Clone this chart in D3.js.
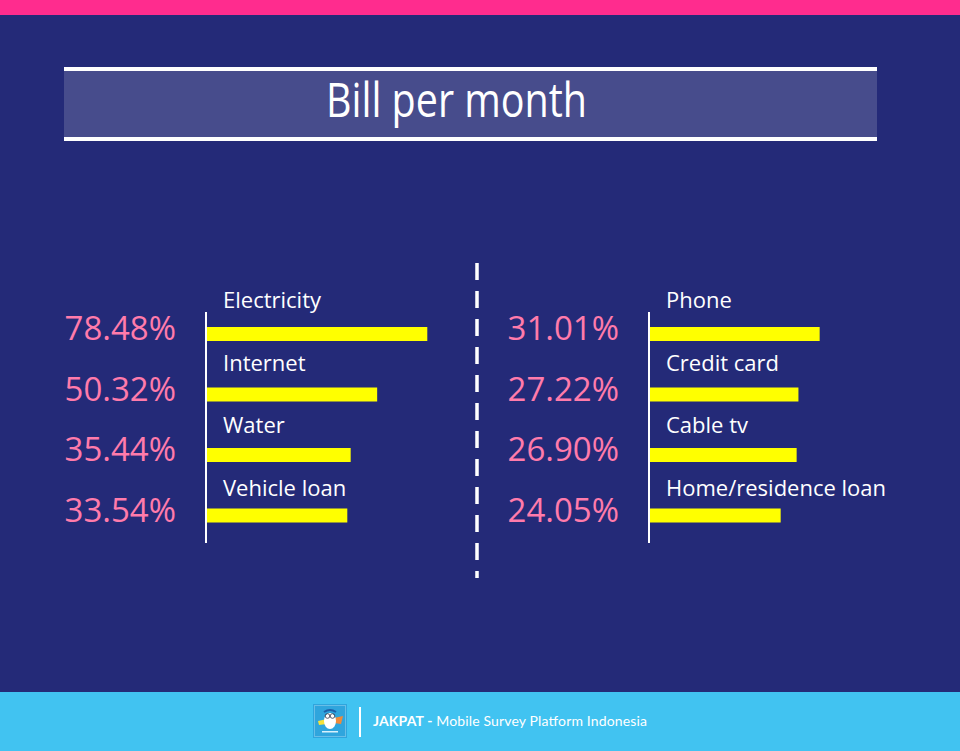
<!DOCTYPE html>
<html>
<head>
<meta charset="utf-8">
<script src="https://cdn.jsdelivr.net/npm/d3@7"></script>
<style>
  html, body { margin: 0; padding: 0; background: #242a78; }
  svg { display: block; }
</style>
</head>
<body>
<svg id="chart"></svg>
<script>
// data
var titleText = "Bill per month";
var leftCategories = ["Electricity", "Internet", "Water", "Vehicle loan"];
var leftValues = [78.48, 50.32, 35.44, 33.54];
var rightCategories = ["Phone", "Credit card", "Cable tv", "Home/residence loan"];
var rightValues = [31.01, 27.22, 26.90, 24.05];
var footerBrand = "JAKPAT - ";
var footerText = "Mobile Survey Platform Indonesia";

var width = 960, height = 751;

var svg = d3.select("#chart")
    .attr("width", width)
    .attr("height", height);

// background + top stripe
svg.append("rect").attr("width", width).attr("height", height).attr("fill", "#242a78");
svg.append("rect").attr("width", width).attr("height", 15).attr("fill", "#ff2c8e");

// title banner
var banner = svg.append("g");
banner.append("rect")
    .attr("x", 64).attr("y", 71).attr("width", 813).attr("height", 66)
    .attr("fill", "#474c8c");
banner.append("rect").attr("x", 64).attr("y", 67).attr("width", 813).attr("height", 4).attr("fill", "#fff");
banner.append("rect").attr("x", 64).attr("y", 137).attr("width", 813).attr("height", 4).attr("fill", "#fff");
banner.append("text")
    .attr("x", 326).attr("y", 117)
    .attr("textLength", 261)
    .attr("lengthAdjust", "spacingAndGlyphs")
    .style("font-family", "'Open Sans', sans-serif")
    .style("font-size", "47px")
    .attr("fill", "#fff")
    .text(titleText);

// one panel of bars
function drawPanel(cats, vals, axisX, x) {
    var data = cats.map(function(c, i) { return {name: c, value: vals[i]}; });

    var y = d3.scaleBand()
        .domain(cats)
        .range([312, 312 + 60.5 * cats.length]);

    // the labels sit a bit more spread out than the bars
    var labelY = d3.scalePoint()
        .domain(cats)
        .range([308, 496]);

    var g = svg.append("g");

    g.append("line")
        .attr("x1", axisX).attr("x2", axisX)
        .attr("y1", 312).attr("y2", 543)
        .attr("stroke", "#fff")
        .attr("stroke-width", 2);

    g.selectAll("rect.bar")
        .data(data)
        .enter()
        .append("rect")
            .attr("class", "bar")
            .attr("x", axisX + 1)
            .attr("y", d => y(d.name) + 15)
            .attr("width", d => x(d.value))
            .attr("height", 14)
            .attr("fill", "#ffff00");

    g.selectAll("text.label")
        .data(data)
        .enter()
        .append("text")
            .attr("class", "label")
            .attr("x", axisX + 17)
            .attr("y", d => labelY(d.name))
            .style("font-family", "'Open Sans', sans-serif")
            .style("font-size", "22px")
            .attr("fill", "#fff")
            .text(d => d.name);

    g.selectAll("text.pct")
        .data(data)
        .enter()
        .append("text")
            .attr("class", "pct")
            .attr("x", axisX - 30)
            .attr("y", d => y(d.name) + 28)
            .attr("text-anchor", "end")
            .style("font-family", "'Open Sans', sans-serif")
            .style("font-size", "33px")
            .attr("fill", "#ff7bab")
            .text(d => d.value.toFixed(2) + "%");
}

// the infographic does not use one common scale, each side has its own
var xLeft = d3.scaleLinear().domain([30, 80]).range([134, 223]);
var xRight = d3.scaleLinear().domain([20, 35]).range([108, 192]);

drawPanel(leftCategories, leftValues, 206, xLeft);
drawPanel(rightCategories, rightValues, 649, xRight);

// dashed divider
svg.append("line")
    .attr("x1", 477).attr("x2", 477)
    .attr("y1", 258).attr("y2", 578)
    .attr("stroke", "#fff")
    .attr("stroke-width", 3.5)
    .attr("stroke-dasharray", "17,11")
    .attr("stroke-dashoffset", 23);

// footer
var footer = svg.append("g");
footer.append("rect")
    .attr("x", 0).attr("y", 692).attr("width", width).attr("height", height - 692)
    .attr("fill", "#41c3f1");

// little logo
var logo = footer.append("g").attr("transform", "translate(313,704)");
logo.append("rect").attr("width", 34).attr("height", 34).attr("fill", "#2fa5dd");
logo.append("rect").attr("x", 1.5).attr("y", 1.5).attr("width", 31).attr("height", 31)
    .attr("fill", "none").attr("stroke", "#bfe6f8").attr("stroke-width", 0.8).attr("stroke-dasharray", "1,1");
logo.append("path").attr("d", "M5,17 L14,15 L14,20 L6,21 Z").attr("fill", "#f5e23a");
logo.append("path").attr("d", "M21,14 L30,12 L28,20 L21,19 Z").attr("fill", "#f08a3a");
logo.append("ellipse").attr("cx", 17).attr("cy", 17).attr("rx", 6).attr("ry", 8).attr("fill", "#fff");
logo.append("circle").attr("cx", 14.5).attr("cy", 12).attr("r", 2.3).attr("fill", "none").attr("stroke", "#334").attr("stroke-width", 0.8);
logo.append("circle").attr("cx", 19.5).attr("cy", 12).attr("r", 2.3).attr("fill", "none").attr("stroke", "#334").attr("stroke-width", 0.8);
logo.append("path").attr("d", "M11,8 Q17,4 23,8").attr("fill", "none").attr("stroke", "#1d5fa8").attr("stroke-width", 2);
logo.append("rect").attr("x", 9).attr("y", 27).attr("width", 16).attr("height", 1.5).attr("fill", "#d8f1fc");

footer.append("line")
    .attr("x1", 360).attr("x2", 360)
    .attr("y1", 707).attr("y2", 737)
    .attr("stroke", "#fff")
    .attr("stroke-width", 2);

var ft = footer.append("text")
    .attr("x", 373).attr("y", 726)
    .attr("textLength", 274)
    .attr("lengthAdjust", "spacing")
    .style("font-family", "'Lato', sans-serif")
    .style("font-size", "14px")
    .attr("fill", "#fff");
ft.append("tspan").style("font-weight", "bold").text(footerBrand);
ft.append("tspan").text(footerText);
</script>
</body>
</html>
